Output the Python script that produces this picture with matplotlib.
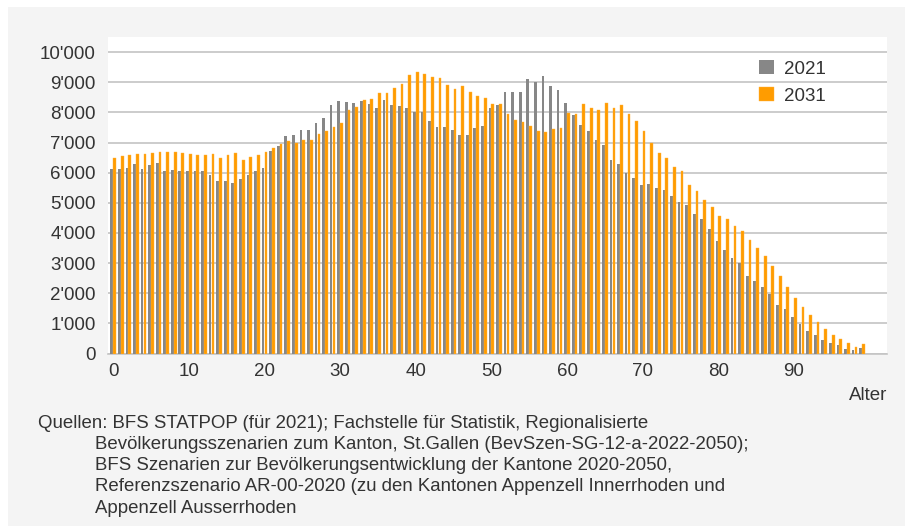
import matplotlib
matplotlib.use("Agg")
from matplotlib import pyplot as plt
from matplotlib import patches as patches
from matplotlib.ticker import FuncFormatter

ages = list(range(100))

pop_2021 = [6130, 6120, 6150, 6280, 6130, 6260, 6320, 6040, 6080, 6060,
            6060, 6040, 6040, 5930, 5720, 5730, 5650, 5790, 5930, 6050,
            6160, 6720, 6880, 7220, 7260, 7430, 7400, 7640, 7820, 8260,
            8380, 8350, 8320, 8370, 8270, 8160, 8400, 8240, 8200, 8150,
            8010, 8020, 7710, 7500, 7530, 7420, 7250, 7250, 7470, 7540,
            8130, 8240, 8680, 8680, 8680, 9100, 9020, 9210, 8880, 8740,
            8320, 7910, 7570, 7380, 7070, 6910, 6430, 6280, 6000, 5810,
            5590, 5610, 5480, 5440, 5230, 5040, 4920, 4620, 4450, 4130,
            3730, 3430, 3160, 2990, 2570, 2400, 2220, 1990, 1600, 1460,
            1200, 980, 740, 630, 450, 350, 290, 140, 100, 170]

pop_2031 = [6500, 6550, 6600, 6620, 6630, 6660, 6670, 6680, 6670, 6660,
            6630, 6600, 6570, 6620, 6490, 6590, 6640, 6430, 6510, 6570,
            6670, 6810, 6950, 7040, 6970, 7070, 7080, 7270, 7380, 7530,
            7660, 8080, 8190, 8410, 8450, 8640, 8640, 8820, 8950, 9250,
            9350, 9280, 9165, 9130, 8910, 8770, 8890, 8670, 8550, 8460,
            8270, 8270, 7930, 7730, 7690, 7560, 7380, 7360, 7450, 7490,
            7970, 7930, 8290, 8160, 8070, 8320, 8130, 8230, 7930, 7710,
            7370, 6990, 6660, 6480, 6200, 6050, 5580, 5400, 5080, 4850,
            4560, 4450, 4240, 4070, 3770, 3490, 3240, 2890, 2580, 2220,
            1830, 1550, 1280, 1050, 800, 630, 475, 340, 220, 330]

series_labels = ["2021", "2031"]

source_lines = [
    "Quellen: BFS STATPOP (für 2021); Fachstelle für Statistik, Regionalisierte",
    "Bevölkerungsszenarien zum Kanton, St.Gallen (BevSzen-SG-12-a-2022-2050);",
    "BFS Szenarien zur Bevölkerungsentwicklung der Kantone 2020-2050,",
    "Referenzszenario AR-00-2020 (zu den Kantonen Appenzell Innerrhoden und",
    "Appenzell Ausserrhoden",
]

GREY = "#878787"
ORANGE = "#ff9c00"
TEXT = "#333333"
W, H = 905, 526

plt.rcParams["font.family"] = ["Liberation Sans", "DejaVu Sans"]

fig = plt.figure(figsize=(W / 100, H / 100), dpi=100, facecolor="white")
# grey panel behind the chart
fig.patches.append(patches.Rectangle((8 / W, 0), 1 - 8 / W, 1 - 7 / H,
                                     transform=fig.transFigure,
                                     facecolor="#f4f4f4", edgecolor="none",
                                     zorder=-10))

ax = fig.add_axes([108 / W, 1 - 353.5 / H, (887 - 108) / W, (353.5 - 37) / H])
ax.set_facecolor("white")

bw = 0.36
off = 0.19
b1 = ax.bar([a - off for a in ages], pop_2021, width=bw, color=GREY,
            linewidth=0, label=series_labels[0], zorder=3)
b2 = ax.bar([a + off for a in ages], pop_2031, width=bw, color=ORANGE,
            edgecolor="#ffb340", linewidth=0.3, label=series_labels[1], zorder=3)

ax.set_xlim(-0.69, 102.3)
ax.set_ylim(0, 10500)
ax.set_yticks(range(0, 10001, 1000))
ax.yaxis.set_major_formatter(FuncFormatter(lambda v, p: f"{int(v):,}".replace(",", "'")))
ax.set_xticks(range(0, 91, 10))
ax.grid(axis="y", color="#c4c4c4", linewidth=1.2, zorder=0)
ax.tick_params(axis="both", length=0, labelsize=13.5, labelcolor=TEXT)
ax.tick_params(axis="y", pad=9)
ax.tick_params(axis="x", pad=7)

for s in ["top", "right", "left"]:
    ax.spines[s].set_visible(False)
ax.spines["bottom"].set_color("#c4c4c4")
ax.spines["bottom"].set_linewidth(1.2)

fig.text(887 / W, 1 - 395 / H, "Alter", ha="right", va="center",
         fontsize=13.5, color=TEXT)

fig.legend(handles=[b1, b2], labels=series_labels, loc="upper left",
           bbox_to_anchor=(759 / W, 1 - 60 / H), frameon=False,
           fontsize=13.5, labelcolor=TEXT, borderpad=0, borderaxespad=0,
           handlelength=0.8, handleheight=0.8, handletextpad=0.55,
           labelspacing=0.5)

y0 = 423
for i, line in enumerate(source_lines):
    x = 38 if i == 0 else 95
    fig.text(x / W, 1 - (y0 + i * 21.3) / H, line, ha="left", va="center",
             fontsize=13.4, color=TEXT)

fig.savefig("out.png", dpi=100, facecolor=fig.get_facecolor())
